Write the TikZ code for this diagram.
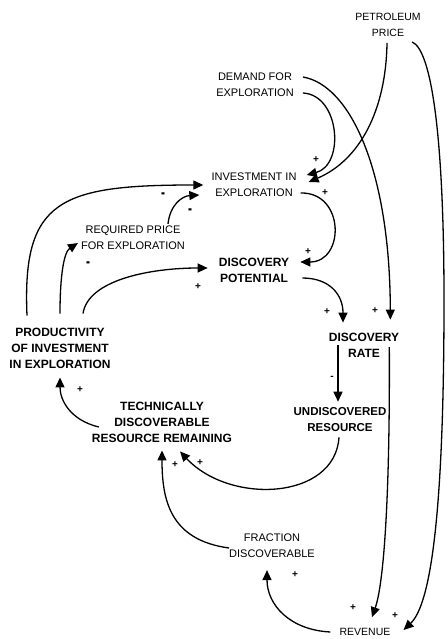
\documentclass[tikz,border=0pt]{standalone}
\usepackage{fontspec}
\setmainfont{Liberation Sans}
\usetikzlibrary{arrows.meta,calc}
\begin{document}
\begin{tikzpicture}[x=1pt,y=-1pt,
  lab/.style={align=center,inner sep=1pt,font=\fontsize{11}{16}\selectfont},
  blab/.style={align=center,inner sep=1pt,font=\bfseries\fontsize{12}{16}\selectfont},
  link/.style={line width=1.3pt,-{Triangle[length=10pt,width=9pt]}},
  sgn/.style={inner sep=0pt,font=\bfseries\fontsize{10}{10}\selectfont},
  msgn/.style={inner sep=0pt,font=\bfseries\fontsize{10}{10}\selectfont}]
\useasboundingbox (0,0) rectangle (447,639);
\fill[white] (0,0) rectangle (447,639);

% nodes
\node[lab,font=\fontsize{10.5}{16}\selectfont] (pp) at (388,25) {PETROLEUM\\PRICE};
\node[lab] (dem) at (255,85) {DEMAND FOR\\EXPLORATION};
\node[lab] (inv) at (254,185) {INVESTMENT IN\\EXPLORATION};
\node[lab] (req) at (133,238) {REQUIRED PRICE\\FOR EXPLORATION};
\node[blab] (pot) at (254,270) {DISCOVERY\\POTENTIAL};
\node[blab] (prod) at (60,348) {PRODUCTIVITY\\OF INVESTMENT\\IN EXPLORATION};
\node[blab] (rate) at (364,345) {DISCOVERY\\RATE};
\node[blab] (tech) at (162,422) {TECHNICALLY\\DISCOVERABLE\\RESOURCE REMAINING};
\node[blab,font=\bfseries\fontsize{11.5}{16}\selectfont] (und) at (340,420) {UNDISCOVERED\\RESOURCE};
\node[lab] (frac) at (272,546) {FRACTION\\DISCOVERABLE};
\node[lab,font=\fontsize{10.5}{16}\selectfont] (rev) at (365,632) {REVENUE};

% connectors
\draw[link] ($(pp.south)+(-1,5)$) .. controls (386,110) and (360,160) .. ($(inv.east)+(11,-3)$);
\draw[link] ($(pp.south)+(24,4)$) .. controls (432,50) and (444,140) .. (444,300)
   .. controls (444,520) and (430,605) .. ($(rev.east)+(12,-2)$);
\draw[link] ($(dem.east)+(8,-8)$) .. controls (350,85) and (390,170) .. ($(rate.north east)+(-10,-12)$);
\draw[link] ($(dem.east)+(8,8)$) .. controls (340,95) and (345,165) .. ($(inv.east)+(9,-10)$);
\draw[link] ($(inv.east)+(3,8)$) .. controls (345,192) and (345,262) .. ($(pot.east)+(10,-8)$);
\draw[link] ($(req.north)+(35,-1)$) .. controls (170,205) and (182,196) .. ($(inv.west)+(-11,10)$);
\draw[link] ($(prod.north)+(-33,-11)$) .. controls (22,200) and (60,185) .. ($(inv.west)+(-7,0)$);
\draw[link] ($(prod.north)+(0,-13)$) .. controls (60,275) and (64,252) .. ($(req.west)+(-2,5)$);
\draw[link] ($(prod.north)+(23,-13)$) .. controls (88,280) and (150,268) .. ($(pot.west)+(-10,-2)$);
\draw[link] ($(pot.east)+(12,8)$) .. controls (330,278) and (343,295) .. ($(rate.north)+(-21,-9)$);
\draw[link] ($(rate.south)+(-26,-13)$) -- ($(und.north)+(-2,-5)$);
\draw[link] ($(rate.east)+(-11,2)$) .. controls (390,480) and (385,580) .. ($(rev.north)+(7,-10)$);
\draw[link] ($(und.south)+(-1,4)$) .. controls (335,500) and (230,505) .. ($(tech.south)+(18,8)$);
\draw[link] ($(frac.west)+(1,2)$) .. controls (170,540) and (162,500) .. ($(tech.south)+(0,7)$);
\draw[link] ($(tech.west)+(8,5)$) .. controls (70,420) and (60,400) .. ($(prod.south)+(0,8)$);
\draw[link] ($(rev.west)+(-8,0)$) .. controls (290,630) and (267,605) .. ($(frac.south)+(-5,11)$);

% polarity signs
\node[sgn] (s1) at (316,160) {+};
\node[sgn] (s2) at (325,193) {+};
\node[msgn] (s3) at (163,196) {\scalebox{1.2}[1.8]{-}};
\node[msgn] (s4) at (190,212) {\scalebox{1.2}[1.8]{-}};
\node[msgn] (s5) at (88,265) {\scalebox{1.2}[1.8]{-}};
\node[sgn] (s6) at (198,287) {+};
\node[sgn] (s7) at (308,252) {+};
\node[sgn] (s8) at (327,312) {+};
\node[sgn] (s9) at (375,311) {+};
\node[sgn] (s10) at (332,378) {-};
\node[sgn] (s11) at (80,390) {+};
\node[sgn] (s12) at (175,465) {+};
\node[sgn] (s13) at (200,463) {+};
\node[sgn] (s14) at (295,575) {+};
\node[sgn] (s15) at (353,608) {+};
\node[sgn] (s16) at (395,616) {+};
\end{tikzpicture}
\end{document}
